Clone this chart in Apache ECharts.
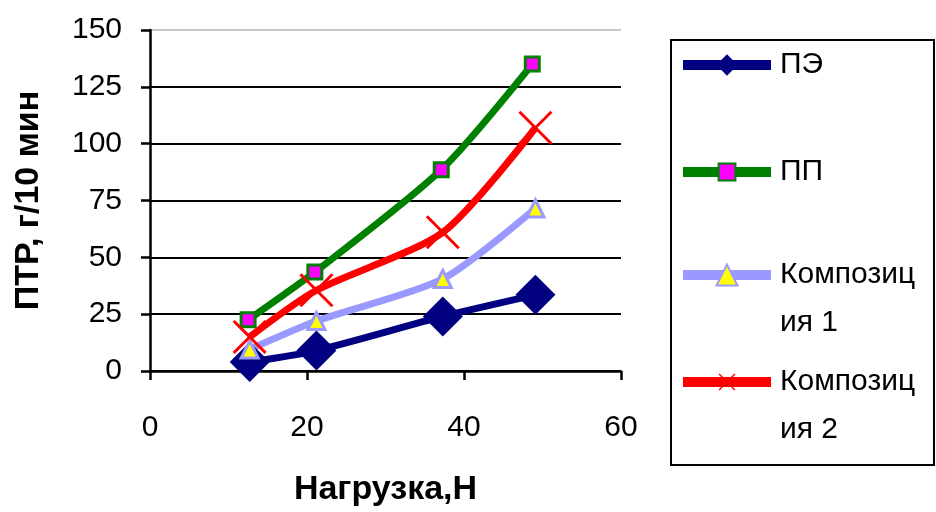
<!DOCTYPE html>
<html>
<head>
<meta charset="utf-8">
<script src="https://cdn.jsdelivr.net/npm/echarts@6/dist/echarts.min.js"></script>
<style>
  html, body { margin: 0; padding: 0; background: #fff; }
  #chart { width: 936px; height: 512px; }
</style>
</head>
<body>
<div id="chart"></div>
<script>
// values
var names = ['ПЭ', 'ПП', 'Композиция 1', 'Композиция 2']
var loadPE = [12.7, 21.2, 37.3, 49.1]
var valuesPE = [4, 9, 24, 33.5]
var loadPP = [12.5, 21, 37.1, 48.7]
var valuesPP = [22.5, 43.5, 88.5, 135]
var loadC1 = [12.7, 21.2, 37.3, 49.1]
var valuesC1 = [9.5, 22, 40.5, 71.5]
var loadC2 = [12.7, 21.2, 37.3, 49.1]
var valuesC2 = [15, 35.5, 61, 107]
var xTicks = [0, 20, 40, 60]
var yTicks = [0, 25, 50, 75, 100, 125, 150]

function pairs(xs, ys) {
  return xs.map(function(x, i) { return [x, ys[i]] })
}

var font = '"Liberation Sans", Arial, sans-serif'
var crossPath = 'path://M0,6L6,0L50,44L94,0L100,6L56,50L100,94L94,100L50,56L6,100L0,94L44,50Z'

var chart = echarts.init(document.getElementById('chart'), null, { renderer: 'canvas' })

function legendItem(name, top, itemHeight) {
  return {
    data: [name],
    orient: 'vertical',
    left: 678,
    top: top,
    padding: 0,
    itemWidth: 88,
    itemHeight: itemHeight,
    itemGap: 0,
    selectedMode: false,
    lineStyle: { width: 10 },
    // long names wrap like the original; a leading blank line keeps the first line level with the icon
    formatter: function(n) {
      return n.length > 8 ? '\n' + n.slice(0, 8) + '\n' + n.slice(8) : n
    },
    textStyle: {
      fontFamily: font,
      fontSize: 30,
      color: '#000',
      lineHeight: 48,
      padding: [0, 0, 0, 4]
    }
  }
}

chart.setOption({
  animation: false,
  backgroundColor: '#fff',
  grid: {
    left: 150,
    right: 315,
    top: 30,
    bottom: 139
  },
  graphic: [{
    type: 'rect',
    shape: { x: 671, y: 40, width: 263, height: 425 },
    style: { fill: 'none', stroke: '#000', lineWidth: 2 },
    z: -1
  }],
  legend: [
    legendItem(names[0], 41, 27),
    legendItem(names[1], 148, 21),
    legendItem(names[2], 203, 26),
    legendItem(names[3], 310, 21)
  ],
  xAxis: {
    type: 'value',
    min: xTicks[0],
    max: xTicks[xTicks.length - 1],
    interval: 20,
    name: 'Нагрузка,Н',
    nameLocation: 'middle',
    nameGap: 102,
    nameTextStyle: { fontFamily: font, fontSize: 34, fontWeight: 'bold', color: '#000' },
    axisLine: { onZero: false, lineStyle: { color: '#000', width: 2.5 } },
    axisTick: { length: 9, lineStyle: { color: '#000', width: 2.5 } },
    axisLabel: { margin: 42, fontFamily: font, fontSize: 30, color: '#000' },
    splitLine: { show: false }
  },
  yAxis: {
    type: 'value',
    min: yTicks[0],
    max: yTicks[yTicks.length - 1],
    interval: 25,
    name: 'ПТР, г/10 мин',
    nameLocation: 'middle',
    nameGap: 104,
    nameRotate: 90,
    nameTextStyle: { fontFamily: font, fontSize: 34, fontWeight: 'bold', color: '#000' },
    axisLine: { show: true, lineStyle: { color: '#000', width: 2.5 } },
    axisTick: { show: true, length: 9, lineStyle: { color: '#000', width: 2.5 } },
    axisLabel: { margin: 28, fontFamily: font, fontSize: 30, color: '#000' },
    splitLine: {
      show: true,
      lineStyle: {
        color: ['#000', '#000', '#000', '#000', '#000', '#000', '#c8c8c8'],
        width: 2
      }
    }
  },
  series: [
    {
      name: names[0],
      type: 'line',
      smooth: 0.25,
      data: pairs(loadPE, valuesPE),
      symbol: 'diamond',
      symbolSize: 40,
      lineStyle: { color: '#000080', width: 7 },
      itemStyle: { color: '#000080' }
    },
    {
      name: names[1],
      type: 'line',
      smooth: 0.25,
      data: pairs(loadPP, valuesPP),
      symbol: 'rect',
      symbolSize: 14,
      lineStyle: { color: '#008000', width: 7 },
      itemStyle: { color: '#ff00ff', borderColor: '#008000', borderWidth: 3 }
    },
    {
      name: names[2],
      type: 'line',
      smooth: 0.25,
      data: pairs(loadC1, valuesC1),
      symbol: 'triangle',
      symbolSize: 17,
      lineStyle: { color: '#9999ff', width: 7 },
      itemStyle: { color: '#ffff00', borderColor: '#9999ff', borderWidth: 3 }
    },
    {
      name: names[3],
      type: 'line',
      smooth: 0.25,
      data: pairs(loadC2, valuesC2),
      symbol: crossPath,
      symbolSize: 34,
      lineStyle: { color: '#ff0000', width: 7 },
      itemStyle: { color: '#ff0000' }
    }
  ]
})
</script>
</body>
</html>
